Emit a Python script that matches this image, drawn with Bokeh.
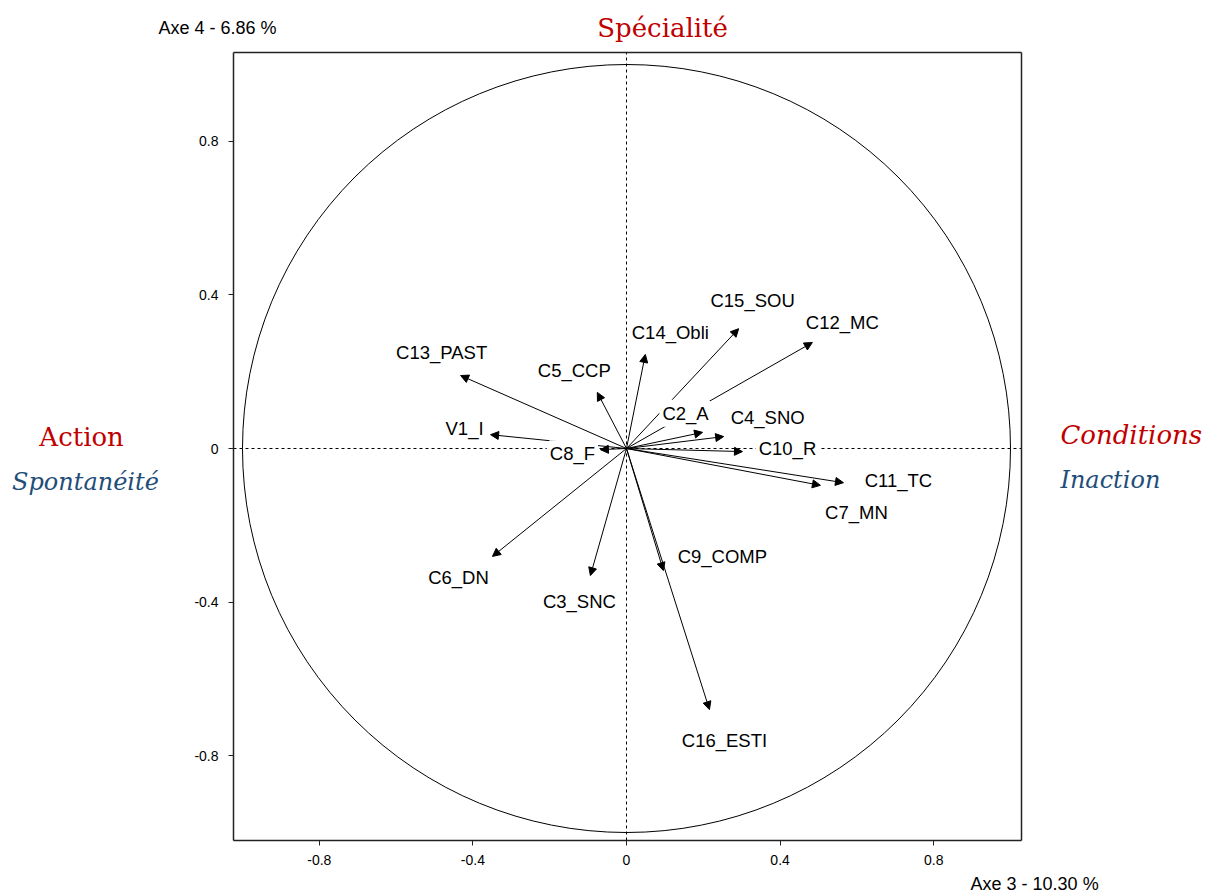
from bokeh.plotting import figure
from bokeh.models import (ColumnDataSource, Arrow, NormalHead, LabelSet, Label,
                          FixedTicker, Range1d, LinearAxis)
from bokeh.core.properties import value
from bokeh.embed import file_html
from bokeh.resources import INLINE

# ---- data: correlation circle (axes 3 and 4) ----
variables = ["C13_PAST", "C5_CCP", "C14_Obli", "V1_I", "C8_F", "C15_SOU", "C12_MC",
             "C2_A", "C4_SNO", "C10_R", "C11_TC", "C7_MN", "C6_DN", "C3_SNC",
             "C9_COMP", "C16_ESTI"]
axe3 = [-0.432, -0.076, 0.049, -0.354, -0.068, 0.292, 0.484,
        0.198, 0.253, 0.302, 0.565, 0.505, -0.349, -0.094,
        0.096, 0.216]
axe4 = [0.190, 0.146, 0.245, 0.036, -0.003, 0.312, 0.276,
        0.042, 0.031, -0.008, -0.089, -0.096, -0.281, -0.331,
        -0.318, -0.680]
tick_values = [-0.8, -0.4, 0, 0.4, 0.8]
tick_labels = ["-0.8", "-0.4", "0", "0.4", "0.8"]
x_title = "Axe 3  -  10.30 %"
y_title = "Axe 4  -  6.86 %"

# ---- layout / style constants ----
# plotting box limits (data units)
x_lo, x_hi = -1.0234, 1.0286
y_lo, y_hi = -1.0208, 1.0312
# label placement (screen-pixel offsets from arrow tips, up = positive)
label_dx = [-19, -23, 25, -26, -28, 14, 30, -17, 44, 45, 55, 36, -34, -11, 59, 15]
label_dy = [23, 22, 22, 6, -4, 28, 20, 19, 19, 3, 2, -27, -21, -26, 14, -31]

src = ColumnDataSource(dict(x0=[0.0] * len(variables), y0=[0.0] * len(variables),
                            x=axe3, y=axe4, name=variables, dx=label_dx, dy=label_dy))

p = figure(frame_width=1212, frame_height=896,
           min_border_left=0, min_border_right=0, min_border_top=0, min_border_bottom=0,
           x_range=Range1d(-1.630208, 1.526042), y_range=Range1d(-1.166667, 1.166667),
           x_axis_location=None, y_axis_location=None,
           output_backend="svg", toolbar_location=None)

p.xgrid.visible = False
p.ygrid.visible = False
p.outline_line_color = None
p.background_fill_color = "white"
p.border_fill_color = "white"


def make_axis(loc, bounds, ticks=True):
    ax = LinearAxis(fixed_location=loc, bounds=bounds)
    ax.ticker = FixedTicker(ticks=tick_values)
    ax.minor_tick_line_color = None
    ax.axis_line_color = "#222222"
    ax.axis_line_width = 1.5
    if ticks:
        ax.major_label_overrides = {v: l for v, l in zip(tick_values, tick_labels)}
        ax.major_tick_in = 0
        ax.major_tick_out = 5
        ax.major_tick_line_color = "#222222"
        ax.major_label_text_font = "Liberation Sans"
        ax.major_label_text_font_size = "14px"
        ax.major_label_text_color = "black"
        ax.major_label_standoff = 10
    else:
        ax.major_tick_line_color = None
        ax.major_label_text_color = None
        ax.major_label_text_font_size = "0px"
    return ax


p.add_layout(make_axis(x_lo, (y_lo, y_hi)), "left")
p.add_layout(make_axis(y_lo, (x_lo, x_hi)), "below")
p.add_layout(make_axis(y_hi, (x_lo, x_hi), ticks=False), "above")
p.add_layout(make_axis(x_hi, (y_lo, y_hi), ticks=False), "right")

# dashed axes through origin
p.segment(x0=[x_lo, 0], y0=[0, y_lo], x1=[x_hi, 0], y1=[0, y_hi],
          line_color="black", line_width=1, line_dash="3 3")

# unit circle
p.circle(x=[0], y=[0], radius=1, fill_color=None, line_color="black", line_width=1)

# arrows
p.add_layout(Arrow(source=src, x_start="x0", y_start="y0", x_end="x", y_end="y",
                   line_color="black", line_width=1,
                   end=NormalHead(size=8, fill_color="black", line_color="black",
                                  line_width=1)))

# labels with white boxes (white border widens the box)
p.add_layout(LabelSet(source=src, x="x", y="y", text="name",
                      x_offset="dx", y_offset="dy",
                      text_align="center", text_baseline="middle",
                      text_font=value("Liberation Sans"), text_font_size="18.5px",
                      text_color="black", background_fill_color="white",
                      border_line_color="white", border_line_width=6))

# axis captions
p.add_layout(Label(x=-1.219, y=1.094, text=y_title, text_font="Liberation Sans",
                   text_font_size="18px", text_color="black",
                   text_baseline="middle", text_align="left"))
p.add_layout(Label(x=0.896, y=-1.1354, text=x_title, text_font="Liberation Sans",
                   text_font_size="18px", text_color="black",
                   text_baseline="middle", text_align="left"))

# interpretive annotations
red = "#C00000"
blue = "#1F4E79"
p.add_layout(Label(x=0.094, y=1.094, text="Spécialité", text_font="DejaVu Serif",
                   text_font_size="26px", text_color=red,
                   text_baseline="middle", text_align="center"))
p.add_layout(Label(x=-1.419, y=0.031, text="Action", text_font="DejaVu Serif",
                   text_font_size="26px", text_color=red,
                   text_baseline="middle", text_align="center"))
p.add_layout(Label(x=-1.409, y=-0.086, text="Spontanéité", text_font="DejaVu Serif",
                   text_font_size="24px", text_font_style="italic", text_color=blue,
                   text_baseline="middle", text_align="center"))
p.add_layout(Label(x=1.130, y=0.036, text="Conditions", text_font="DejaVu Serif",
                   text_font_size="26px", text_font_style="italic", text_color=red,
                   text_baseline="middle", text_align="left"))
p.add_layout(Label(x=1.130, y=-0.083, text="Inaction", text_font="DejaVu Serif",
                   text_font_size="24px", text_font_style="italic", text_color=blue,
                   text_baseline="middle", text_align="left"))

open("out.html", "w").write(file_html(p, INLINE))
